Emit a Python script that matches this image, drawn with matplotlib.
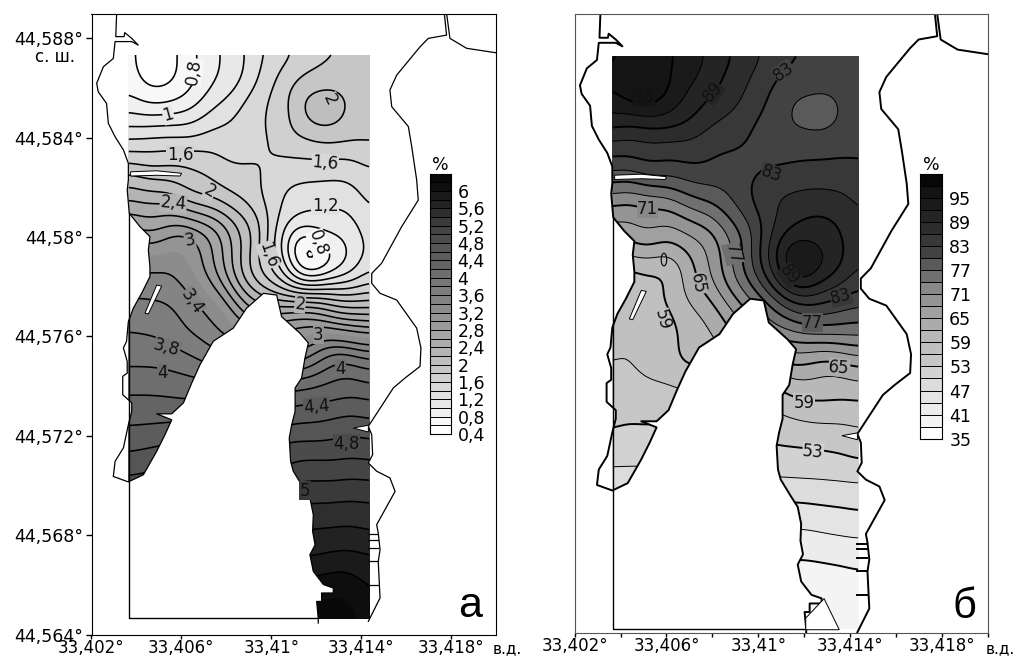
import numpy as np
import matplotlib
matplotlib.use("Agg")
import matplotlib.pyplot as plt
from matplotlib.colors import ListedColormap, BoundaryNorm
from matplotlib.patches import Polygon, Ellipse
from matplotlib.tri import Triangulation, CubicTriInterpolator

plt.rcParams['font.family'] = ['DejaVu Sans']

# grid nodes of the sampled water area
lon_nodes = np.linspace(33.40366, 33.41435, 9)
lat_nodes = np.linspace(44.58732, 44.56466, 20)

field_a = [
    [0.70, 0.47, 0.72, 1.00, 1.25, 1.50, 1.68, 1.81, 1.88],
    [0.75, 0.55, 0.75, 1.05, 1.32, 1.65, 1.92, 1.97, 1.92],
    [1.03, 0.98, 1.05, 1.30, 1.50, 1.68, 2.06, 2.04, 1.90],
    [1.47, 1.50, 1.50, 1.52, 1.50, 1.65, 1.75, 1.78, 1.79],
    [2.00, 1.90, 1.85, 1.72, 1.65, 1.50, 1.47, 1.45, 1.58],
    [2.45, 2.40, 2.22, 2.05, 1.78, 1.42, 1.25, 1.23, 1.45],
    [2.90, 2.85, 2.95, 2.60, 2.05, 1.30, 0.85, 1.03, 1.33],
    [3.35, 3.30, 3.20, 2.70, 2.00, 1.38, 0.50, 0.92, 1.35],
    [3.55, 3.55, 3.40, 3.00, 2.30, 1.95, 1.72, 1.70, 1.80],
    [3.75, 3.72, 3.55, 3.35, 2.90, 2.80, 2.90, 2.70, 2.60],
    [3.90, 3.88, 3.77, 3.60, 3.50, 3.30, 3.48, 3.78, 3.60],
    [4.10, 4.10, 4.05, 4.00, 4.00, 4.00, 4.08, 4.23, 4.15],
    [4.30, 4.30, 4.30, 4.30, 4.35, 4.40, 4.47, 4.53, 4.50],
    [4.50, 4.55, 4.60, 4.65, 4.70, 4.75, 4.79, 4.82, 4.80],
    [4.75, 4.80, 4.85, 4.90, 4.95, 5.00, 5.10, 5.10, 5.09],
    [5.00, 5.05, 5.10, 5.15, 5.20, 5.28, 5.37, 5.38, 5.37],
    [5.30, 5.32, 5.35, 5.40, 5.45, 5.50, 5.60, 5.62, 5.58],
    [5.60, 5.60, 5.62, 5.65, 5.70, 5.75, 5.82, 5.88, 5.82],
    [5.90, 5.90, 5.92, 5.95, 6.00, 6.05, 6.10, 6.15, 5.98],
    [6.10, 6.10, 6.12, 6.15, 6.20, 6.22, 6.25, 6.30, 6.10],
]

field_b = [
    [94.0, 96.5, 95.0, 92.0, 88.7, 85.5, 83.2, 81.5, 81.0],
    [95.0, 98.5, 94.0, 90.6, 87.3, 83.7, 81.0, 80.3, 81.0],
    [91.5, 92.0, 91.0, 87.5, 85.5, 82.3, 79.4, 79.3, 81.0],
    [85.0, 85.2, 85.0, 84.5, 83.3, 81.5, 81.8, 81.7, 82.0],
    [79.0, 79.5, 80.0, 81.3, 81.5, 84.0, 84.5, 84.7, 84.3],
    [71.0, 71.0, 72.0, 75.5, 79.8, 84.8, 87.5, 88.0, 85.6],
    [66.0, 67.0, 66.0, 69.0, 75.5, 84.5, 91.5, 90.7, 86.0],
    [60.0, 60.0, 60.5, 67.0, 74.8, 84.5, 95.0, 91.0, 85.5],
    [58.0, 58.0, 60.0, 64.3, 71.0, 78.0, 85.5, 84.0, 81.5],
    [57.0, 57.0, 58.5, 61.5, 66.0, 72.0, 75.5, 76.5, 76.0],
    [56.3, 56.8, 58.5, 60.0, 62.0, 65.0, 66.8, 65.5, 67.6],
    [54.8, 55.2, 55.8, 56.0, 57.0, 58.0, 60.6, 60.4, 61.0],
    [53.5, 53.4, 53.5, 54.0, 54.5, 55.0, 56.2, 56.7, 57.0],
    [52.0, 51.5, 51.5, 52.0, 52.0, 52.5, 52.9, 53.3, 54.5],
    [48.8, 49.0, 49.0, 49.5, 49.5, 49.8, 50.0, 50.2, 50.6],
    [46.5, 46.5, 46.5, 46.5, 46.5, 46.4, 46.2, 46.7, 47.3],
    [43.5, 43.5, 43.5, 43.5, 43.3, 43.2, 43.0, 43.5, 44.0],
    [40.5, 40.5, 40.5, 40.5, 40.4, 40.3, 40.2, 40.5, 41.2],
    [39.0, 39.0, 39.0, 39.0, 39.0, 38.9, 38.8, 38.5, 39.0],
    [38.5, 38.5, 38.5, 38.5, 38.5, 38.5, 38.5, 38.3, 38.6],
]

# coast of the bay, walked from the north-west round to the north-east
coast_lon = [33.40312, 33.40308, 33.40345, 33.40348, 33.40379, 33.40408, 33.40379, 33.40305, 33.40297, 33.40253,
             33.40223, 33.40230, 33.40267, 33.40275, 33.40305, 33.40342, 33.40364, 33.40364, 33.40359, 33.40368,
             33.40416, 33.40460, 33.40453, 33.40460, 33.40460, 33.40423, 33.40386, 33.40364, 33.40356, 33.40342,
             33.40359, 33.40359, 33.40339, 33.40339, 33.40379, 33.40379, 33.40364, 33.40342, 33.40305, 33.40297,
             33.40364, 33.40431, 33.40490, 33.40527, 33.40557, 33.40490, 33.40557, 33.40609, 33.40646, 33.40683,
             33.40742, 33.40831, 33.40890, 33.40965, 33.41024, 33.41046, 33.41128, 33.41165, 33.41150, 33.41135,
             33.41106, 33.41106, 33.41091, 33.41080, 33.41086, 33.41098, 33.41143, 33.41172, 33.41187, 33.41184,
             33.41195, 33.41172, 33.41187, 33.41232, 33.41276, 33.41276, 33.41224, 33.41224, 33.41202, 33.41209,
             33.41209, 33.41432, 33.41484, 33.41476, 33.41484, 33.41476, 33.41469, 33.41551, 33.41528, 33.41469,
             33.41432, 33.41451, 33.41447, 33.41432, 33.41543, 33.41595, 33.41662, 33.41666, 33.41647, 33.41558,
             33.41484, 33.41447, 33.41447, 33.41491, 33.41580, 33.41654, 33.41647, 33.41625, 33.41610, 33.41536,
             33.41528, 33.41558, 33.41662, 33.41699, 33.41780, 33.41770]
coast_lat = [44.58900, 44.58806, 44.58806, 44.58822, 44.58799, 44.58772, 44.58786, 44.58786, 44.58718, 44.58685,
             44.58618, 44.58584, 44.58537, 44.58457, 44.58403, 44.58350, 44.58296, 44.58229, 44.58189, 44.58095,
             44.58041, 44.58001, 44.57947, 44.57880, 44.57840, 44.57773, 44.57713, 44.57659, 44.57580, 44.57553,
             44.57499, 44.57452, 44.57439, 44.57365, 44.57332, 44.57298, 44.57244, 44.57151, 44.57097, 44.57036,
             44.57014, 44.57043, 44.57137, 44.57204, 44.57264, 44.57288, 44.57288, 44.57332, 44.57412, 44.57486,
             44.57580, 44.57633, 44.57713, 44.57773, 44.57766, 44.57679, 44.57612, 44.57573, 44.57513, 44.57432,
             44.57392, 44.57298, 44.57244, 44.57191, 44.57097, 44.57057, 44.56990, 44.56949, 44.56882, 44.56815,
             44.56761, 44.56721, 44.56654, 44.56601, 44.56587, 44.56567, 44.56567, 44.56533, 44.56533, 44.56465,
             44.56446, 44.56453, 44.56547, 44.56694, 44.56741, 44.56808, 44.56842, 44.56976, 44.57030, 44.57057,
             44.57090, 44.57124, 44.57204, 44.57238, 44.57392, 44.57432, 44.57479, 44.57553, 44.57633, 44.57746,
             44.57773, 44.57813, 44.57853, 44.57894, 44.58041, 44.58148, 44.58229, 44.58363, 44.58444, 44.58524,
             44.58591, 44.58651, 44.58765, 44.58799, 44.58812, 44.58900]
# the coast line is open across the harbour mouth at this point of the walk
coast_break = 81

# second shore in the north-east corner
cape_lon = [33.41780, 33.41795, 33.41869, 33.42000]
cape_lat = [44.58900, 44.58799, 44.58759, 44.58741]

# outline of the sampled area
frame_lon = [33.40366, 33.40366, 33.41209]
frame_lat = [44.58095, 44.56466, 44.56466]

# spits and moles cut out of the water
spit_lon = [33.40374, 33.40490, 33.40601, 33.40594, 33.40490, 33.40374]
spit_lat = [44.58262, 44.58266, 44.58256, 44.58245, 44.58248, 44.58245]
mole_lon = [33.40490, 33.40512, 33.40453, 33.40438]
mole_lat = [44.57806, 44.57802, 44.57690, 44.57693]
inlet_lon = [33.41365, 33.41432, 33.41432]
inlet_lat = [44.57231, 44.57242, 44.57215]
pier_lat = [44.56804, 44.56782, 44.56748, 44.56694, 44.56601]
pier_lon = [33.41432, 33.41476]
harbour_lon = [33.41207, 33.41287, 33.41353, 33.41207]
harbour_lat = [44.56509, 44.56586, 44.56463, 44.56463]

# values a
band_a = [0.4, 0.6, 0.8, 1.0, 1.2, 1.4, 1.6, 1.8, 2.0, 2.2, 2.4, 2.6, 2.8, 3.0, 3.2, 3.4, 3.6, 3.8, 4.0, 4.2,
          4.4, 4.6, 4.8, 5.0, 5.2, 5.4, 5.6, 5.8, 6.0, 6.2, 6.4]
grey_a = ['#ffffff', '#f8f8f8', '#f0f0f0', '#e8e8e8', '#e1e1e1', '#d8d8d8', '#d0d0d0', '#c6c6c6', '#bebebe',
          '#b4b4b4', '#acacac', '#a5a5a5', '#9b9b9b', '#949494', '#8c8c8c', '#848484', '#7d7d7d', '#767676',
          '#6e6e6e', '#646464', '#5c5c5c', '#555555', '#4b4b4b', '#444444', '#3a3a3a', '#2e2e2e', '#222222',
          '#1a1a1a', '#0e0e0e', '#080808']
line_a = [0.6, 0.8, 1.0, 1.2, 1.4, 1.6, 1.8, 2.0, 2.2, 2.4, 2.6, 2.8, 3.0, 3.4, 3.6, 3.8, 4.0,
          4.2, 4.4, 4.6, 4.8, 5.0, 5.2, 5.4, 5.6, 5.8, 6.0]
legend_a = ['0,4', '0,8', '1,2', '1,6', '2', '2,4', '2,8', '3,2', '3,6', '4', '4,4', '4,8', '5,2', '5,6', '6']
legend_a_at = [0.4, 0.8, 1.2, 1.6, 2.0, 2.4, 2.8, 3.2, 3.6, 4.0, 4.4, 4.8, 5.2, 5.6, 6.0]

label_a = ['0,8', '0,8', '1', '1,6', '1,6', '2', '2', '2,4', '1,2', '3', '1,6', '3,4', '2', '3', '3,8', '4', '4',
           '4,4', '4,8', '5']
label_a_lon = [33.40653, 33.41209, 33.40542, 33.40594, 33.41239, 33.41261, 33.40727, 33.40564, 33.41239, 33.40638,
               33.40987, 33.40646, 33.41128, 33.41209, 33.40535, 33.40515, 33.41309, 33.41202, 33.41333, 33.41150]
label_a_lat = [44.58665, 44.57974, 44.58490, 44.58330, 44.58296, 44.58551, 44.58182, 44.58135, 44.58124, 44.57985,
               44.57927, 44.57739, 44.57730, 44.57607, 44.57553, 44.57452, 44.57470, 44.57318, 44.57168, 44.56979]
label_a_rot = [82, -70, 15, 0, -5, -65, -30, -5, 0, 10, -70, -55, -5, 0, -15, 0, 0, 5, 0, 0]

# values б
band_b = [35, 38, 41, 44, 47, 50, 53, 56, 59, 62, 65, 68, 71, 74, 77, 80, 83, 86, 89, 92, 95, 98, 101]
grey_b = ['#ffffff', '#f4f4f4', '#ececec', '#e4e4e4', '#dcdcdc', '#d2d2d2', '#c6c6c6', '#c0c0c0', '#b8b8b8',
          '#ababab', '#a0a0a0', '#949494', '#888888', '#707070', '#5a5a5a', '#424242', '#383838', '#2c2c2c',
          '#242424', '#1a1a1a', '#141414', '#080808']
line_b = band_b[1:-1]
bold_b = [41, 47, 53, 59, 65, 71, 77, 83, 89, 95]
legend_b = ['35', '41', '47', '53', '59', '65', '71', '77', '83', '89', '95']
legend_b_at = [35, 41, 47, 53, 59, 65, 71, 77, 83, 89, 95]

label_b = ['95', '89', '83', '83', '71', '77', '65', '59', '89', '83', '77', '65', '59', '53']
label_b_lon = [33.40502, 33.40800, 33.41112, 33.41059, 33.40517, 33.40890, 33.40735, 33.40582, 33.41135, 33.41360,
               33.41236, 33.41353, 33.41200, 33.41239]
label_b_lat = [44.58572, 44.58591, 44.58671, 44.58268, 44.58130, 44.57952, 44.57833, 44.57688, 44.57866, 44.57781,
               44.57678, 44.57501, 44.57361, 44.57166]
label_b_rot = [0, 50, 35, -20, 0, -75, -80, -75, -50, 15, 0, -5, 0, -5]

# ticks
x_ticks = [33.402, 33.406, 33.41, 33.414, 33.418]
x_labels = ['33,402°', '33,406°', '33,41°', '33,414°', '33,418°']
y_ticks = [44.564, 44.568, 44.572, 44.576, 44.58, 44.584, 44.588]
y_labels = ['44,564°', '44,568°', '44,572°', '44,576°', '44,58°', '44,584°', '44,588°']

W, H = 1018, 656
fig = plt.figure(figsize=(W / 100, H / 100), dpi=100)


def px_axes(x0, x1, y0, y1):
    return fig.add_axes([x0 / W, 1 - y1 / H, (x1 - x0) / W, (y1 - y0) / H])


def box_blur(z, n, axis):
    pad = [(n, n) if a == axis else (0, 0) for a in range(2)]
    z = np.pad(z, pad, mode='edge')
    z = np.apply_along_axis(lambda r: np.convolve(r, np.ones(2 * n + 1) / (2 * n + 1), mode='valid'), axis, z)
    return z


def fine_field(field):
    X, Y = np.meshgrid(lon_nodes, lat_nodes)
    tri = Triangulation(X.ravel(), Y.ravel())
    interp = CubicTriInterpolator(tri, np.array(field, dtype=float).ravel(), kind='min_E')
    lon_f = np.linspace(lon_nodes[0] + 1e-7, lon_nodes[-1] - 1e-7, 81)
    lat_f = np.linspace(lat_nodes[0] - 1e-7, lat_nodes[-1] + 1e-7, 191)
    Xf, Yf = np.meshgrid(lon_f, lat_f)
    zf = np.ma.filled(interp(Xf, Yf), np.nan)
    zf = np.where(np.isnan(zf), np.nanmean(zf), zf)
    for _ in range(2):
        zf = box_blur(box_blur(zf, 3, 0), 3, 1)
    return Xf, Yf, zf


def draw_map(ax, Xf, Yf, zf, bands, greys, lines, coast_lw, line_widths):
    water = Polygon(np.column_stack([coast_lon, coast_lat]), closed=True, fc='none', ec='none',
                    transform=ax.transData)
    ax.add_patch(water)
    filled = ax.contourf(Xf, Yf, zf, levels=bands, colors=[greys[0]] + greys + [greys[-1]], extend='both')
    filled.set_clip_path(water)
    cs = ax.contour(Xf, Yf, zf, levels=lines, colors='black', linewidths=line_widths)
    cs.set_clip_path(water)

    ax.plot(coast_lon[:coast_break], coast_lat[:coast_break], color='black', lw=coast_lw, solid_joinstyle='round')
    ax.plot(coast_lon[coast_break:], coast_lat[coast_break:], color='black', lw=coast_lw, solid_joinstyle='round')
    ax.plot(cape_lon, cape_lat, color='black', lw=coast_lw)
    ax.plot(frame_lon, frame_lat, color='black', lw=1.0)
    for lon, lat in [(spit_lon, spit_lat), (mole_lon, mole_lat), (inlet_lon, inlet_lat)]:
        ax.add_patch(Polygon(np.column_stack([lon, lat]), closed=True, fc='white', ec='black', lw=0.7, zorder=3))
    for lat in pier_lat:
        ax.plot(pier_lon, [lat, lat], color='black', lw=coast_lw)
    ax.set_xlim(33.402, 33.42)
    ax.set_xticks(x_ticks)
    ax.set_xticklabels(x_labels, fontsize=12)
    ax.tick_params(axis='x', length=3, width=1, pad=0)


def add_labels(ax, Xf, Yf, zf, texts, lons, lats, rots, bands, greys, size):
    for t, lon, lat, rot in zip(texts, lons, lats, rots):
        # the gap in the line takes the colour of the band under the label
        j = np.abs(Xf[0] - lon).argmin()
        i = np.abs(Yf[:, 0] - lat).argmin()
        k = int(np.clip(np.searchsorted(bands, zf[i, j]) - 1, 0, len(greys) - 1))
        ax.text(lon, lat, t, fontsize=size, rotation=rot, ha='center', va='center', color='#111111', zorder=4,
                rotation_mode='anchor', bbox=dict(fc=greys[k], ec='none', pad=0.2))


def add_legend(x0, x1, y0, y1, bands, greys, at, labels):
    cax = px_axes(x0, x1, y0, y1)
    cmap = ListedColormap(greys)
    cax.pcolormesh([0, 1], bands, np.arange(len(greys)).reshape(-1, 1), cmap=cmap,
                   norm=BoundaryNorm(np.arange(len(greys) + 1) - 0.5, len(greys)))
    cax.hlines(bands, 0, 1, color='black', lw=0.7)
    cax.set_xticks([])
    cax.yaxis.tick_right()
    cax.set_yticks(at)
    cax.set_yticklabels(labels, fontsize=12.5)
    cax.tick_params(axis='y', length=0, pad=5)
    for s in cax.spines.values():
        s.set_linewidth(0.8)
    fig.text((x0 + x1) / 2 / W, 1 - 165 / H, '%', fontsize=12.5, ha='center', va='center')


# panel a
ax1 = px_axes(91.5, 496, 14, 634.5)
Xa, Ya, za = fine_field(field_a)
draw_map(ax1, Xa, Ya, za, band_a, grey_a, line_a, 0.9, 1.15)
ax1.set_ylim(44.564, 44.58897)
ax1.set_yticks(y_ticks)
ax1.set_yticklabels(y_labels, fontsize=12.5)
ax1.tick_params(axis='y', length=4, width=1, pad=2)
add_labels(ax1, Xa, Ya, za, label_a, label_a_lon, label_a_lat, label_a_rot, band_a, grey_a, 12)
ax1.text(33.41884, 44.5647, 'а', fontsize=31, family='Liberation Sans', ha='center', va='baseline')
add_legend(429.5, 450.5, 173.7, 434, band_a, grey_a, legend_a_at, legend_a)

# panel б
ax2 = px_axes(574.7, 987.7, 14, 633)
Xb, Yb, zb = fine_field(field_b)
lw_b = [1.4 if v in bold_b else 0.7 for v in line_b]
draw_map(ax2, Xb, Yb, zb, band_b, grey_b, line_b, 1.4, lw_b)
ax2.set_ylim(44.5645, 44.5890)
ax2.set_yticks([])
ax2.set_xticks([33.404, 33.408, 33.412, 33.416, 33.42], minor=True)
ax2.tick_params(axis='x', which='minor', length=3, width=1)
for s in ax2.spines.values():
    s.set_color('#555555')
ax2.add_patch(Polygon(np.column_stack([harbour_lon, harbour_lat]), closed=True, fc='white', ec='black', lw=0.7,
                      zorder=3))
ax2.add_patch(Ellipse((33.40589, 44.57928), 0.00024, 0.0005, fc='none', ec='black', lw=0.8))
add_labels(ax2, Xb, Yb, zb, label_b, label_b_lon, label_b_lat, label_b_rot, band_b, grey_b, 12)
ax2.text(33.4190, 44.5651, 'б', fontsize=30, family='Liberation Sans', ha='center', va='baseline')
add_legend(920.3, 942.3, 173.7, 438.7, band_b, grey_b, legend_b_at, legend_b)

fig.text(55 / W, 1 - 57 / H, 'с. ш.', fontsize=12, ha='center', va='center')
fig.text(507 / W, 1 - 649 / H, 'в.д.', fontsize=11, ha='center', va='center')
fig.text(1000 / W, 1 - 649 / H, 'в.д.', fontsize=11, ha='center', va='center')

fig.savefig('out.png', dpi=100)
